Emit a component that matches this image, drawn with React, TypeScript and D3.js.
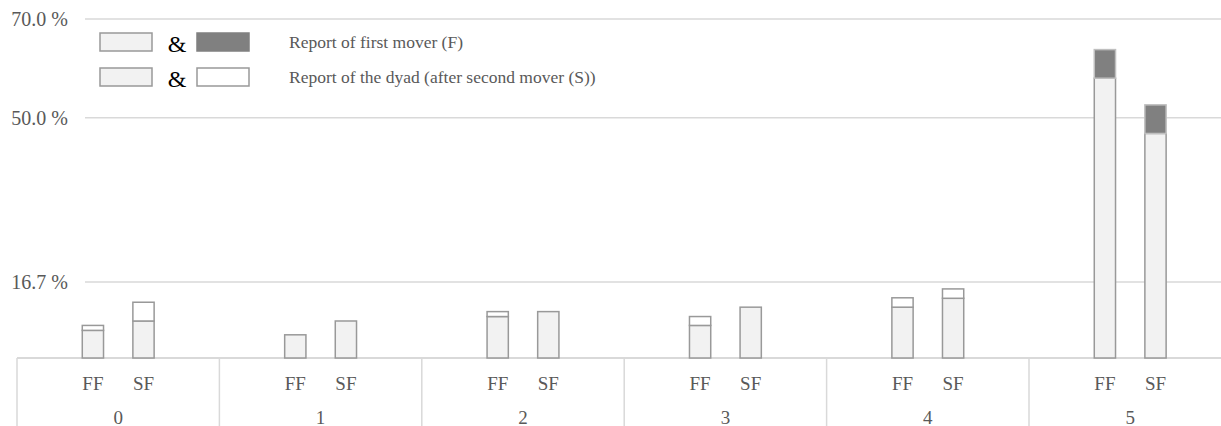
import * as d3 from "d3";

const WIDTH = 1221;
const HEIGHT = 426;

// categories: reported number, and within each the two treatments
const groups = ["0", "1", "2", "3", "4", "5"];
const subSlots = ["padL", "FF", "SF", "padR"];
const treatments = ["FF", "SF"];

// share of reports (%) per number
const firstMoverFF = [6.9, 6.0, 9.7, 7.9, 11.6, 63.8];
const dyadFF = [7.9, 6.0, 10.7, 9.7, 13.5, 58.0];
const firstMoverSF = [8.8, 8.8, 10.7, 11.6, 13.4, 52.6];
const dyadSF = [12.6, 8.8, 10.7, 11.6, 15.3, 46.8];

const tickValues = [16.7, 50, 70];
const tickLabels = ["16.7 %", "50.0 %", "70.0 %"];

const legendItems = [
  { top: "#808080", label: "Report of first mover (F)" },
  { top: "#ffffff", label: "Report of the dyad (after second mover (S))" },
];

const TEXT = "#595959";
const GRID = "#d9d9d9";
const LIGHT = "#f2f2f2";
const DARK = "#808080";
const EDGE = "#999999";
const FONT = "'Liberation Serif', 'Times New Roman', serif";

const PLOT = { left: 17, right: 1231.4, top: 19, bottom: 358 };

export default function App() {
  const x0 = d3
    .scaleBand()
    .domain(groups)
    .range([PLOT.left, PLOT.right])
    .padding(0);
  const x1 = d3
    .scaleBand()
    .domain(subSlots)
    .range([0, x0.bandwidth()])
    .padding(0);
  const y = d3
    .scaleLinear()
    .domain([1.3, 70])
    .range([PLOT.bottom, PLOT.top]);

  const barW = x1.bandwidth() * 0.42;

  const series: Record<string, { f: number[]; d: number[] }> = {
    FF: { f: firstMoverFF, d: dyadFF },
    SF: { f: firstMoverSF, d: dyadSF },
  };

  const bars = groups.map((g, i) => (
    <g key={g} transform={`translate(${x0(g)},0)`}>
      {treatments.map((t) => {
        const f = series[t].f[i];
        const d = series[t].d[i];
        const lo = Math.min(f, d);
        const hi = Math.max(f, d);
        const cx = (x1(t) ?? 0) + x1.bandwidth() / 2;
        return (
          <g key={t}>
            <rect
              x={cx - barW / 2}
              y={y(lo)}
              width={barW}
              height={PLOT.bottom - y(lo)}
              fill={LIGHT}
              stroke={EDGE}
              strokeWidth={1.5}
            />
            {hi > lo && (
              <rect
                x={cx - barW / 2}
                y={y(hi)}
                width={barW}
                height={y(lo) - y(hi)}
                fill={f > d ? DARK : "#ffffff"}
                stroke={f > d ? "#bfbfbf" : EDGE}
                strokeWidth={1.5}
              />
            )}
            <text
              x={cx}
              y={383}
              textAnchor="middle"
              dominantBaseline="central"
              fontSize={19}
              fill={TEXT}
            >
              {t}
            </text>
          </g>
        );
      })}
      <text
        x={x0.bandwidth() / 2}
        y={417}
        textAnchor="middle"
        dominantBaseline="central"
        fontSize={19}
        fill={TEXT}
      >
        {g}
      </text>
    </g>
  ));

  const grid = tickValues.map((v, i) => (
    <g key={v}>
      <line
        x1={85}
        x2={WIDTH}
        y1={y(v)}
        y2={y(v)}
        stroke={GRID}
        strokeWidth={1.5}
      />
      <text
        x={68}
        y={y(v)}
        textAnchor="end"
        dominantBaseline="central"
        fontSize={20}
        fill={TEXT}
      >
        {tickLabels[i]}
      </text>
    </g>
  ));

  const dividers = [...groups.map((g) => x0(g) ?? 0), PLOT.right];

  return (
    <div style={{ position: "absolute", left: 0, top: 0 }}>
      <svg width={WIDTH} height={HEIGHT} style={{ display: "block", fontFamily: FONT }}>
        {grid}
        <line
          x1={PLOT.left}
          x2={WIDTH}
          y1={PLOT.bottom}
          y2={PLOT.bottom}
          stroke={GRID}
          strokeWidth={2}
        />
        {dividers.map((dx, i) => (
          <line
            key={i}
            x1={dx}
            x2={dx}
            y1={PLOT.bottom}
            y2={HEIGHT}
            stroke={GRID}
            strokeWidth={1.5}
          />
        ))}
        {bars}
        {legendItems.map((item, i) => {
          const cy = 42 + i * 35;
          return (
            <g key={item.label}>
              <rect x={100} y={cy - 9} width={52} height={18} fill={LIGHT} stroke={EDGE} strokeWidth={1.5} />
              <text x={177} y={cy + 2} textAnchor="middle" dominantBaseline="central" fontSize={24} fill="#000">
                &amp;
              </text>
              <rect
                x={197}
                y={cy - 9}
                width={52}
                height={18}
                fill={item.top}
                stroke={item.top === DARK ? DARK : EDGE}
                strokeWidth={1.5}
              />
              <text x={289} y={cy} dominantBaseline="central" fontSize={17.5} fill={TEXT}>
                {item.label}
              </text>
            </g>
          );
        })}
      </svg>
    </div>
  );
}
